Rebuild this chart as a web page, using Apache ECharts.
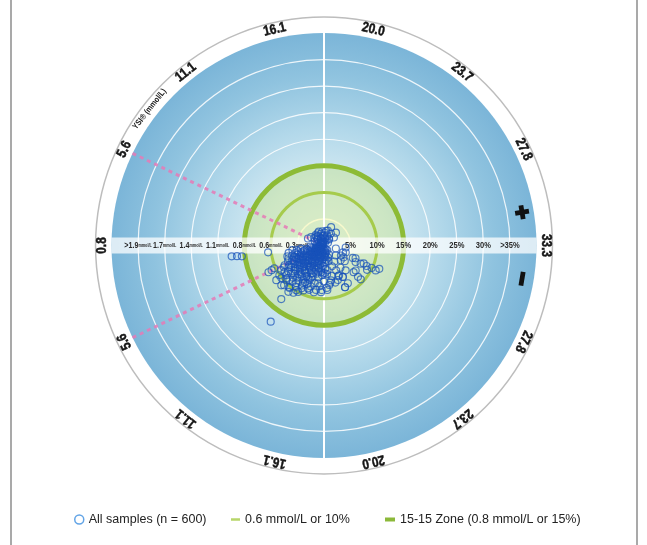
<!DOCTYPE html>
<html>
<head>
<meta charset="utf-8">
<script src="https://cdn.jsdelivr.net/npm/echarts/dist/echarts.min.js"></script>
<style>
  html, body { margin: 0; padding: 0; background: #fff; }
  #chart { width: 647px; height: 545px; }
</style>
</head>
<body>
<div id="chart"></div>
<script>
// YSI reference glucose ticks (mmol/L), equally spaced over each half of the dial
const ysiTicks = [0.8, 5.6, 11.1, 16.1, 20.0, 23.7, 27.8, 33.3];
// Bias rings (percent) with their labels; left side shows mmol/L equivalents
const ringValues = [5, 10, 15, 20, 25, 30, 35];
const pctLabels = ['5%', '10%', '15%', '20%', '25%', '30%', '>35%'];
const mmolLabels = ['0.3', '0.6', '0.8', '1.1', '1.4', '1.7', '>1.9'];

// Samples: [YSI mmol/L, bias in ring units]; positive bias plots in the upper half
const samplesAbove = [
  [20.2, 2.9], [15.8, 2.3], [7.1, 2.9], [10.6, 2.2], [5.2, 3.3], [21.2, 3.7], [19.3, 2.8],
  [24.4, 3.3], [18.0, 1.9], [25.7, 2.4], [9.7, 1.8], [14.1, 1.4], [19.3, 1.3], [23.3, 1.6],
  [6.2, 1.2], [8.5, 0.8], [9.3, 1.6], [11.8, 1.0], [12.6, 2.1], [13.9, 1.5], [15.0, 0.7],
  [16.8, 1.8], [17.4, 0.9], [19.0, 1.3], [20.5, 2.0], [21.7, 1.1], [22.5, 2.6], [24.0, 1.5],
  [26.5, 0.9], [4.0, 0.8], [3.0, 1.4], [14.6, 2.8], [11.0, 2.5], [18.6, 2.4],
  [7.6, 0.5], [10.2, 0.6], [12.9, 0.4], [16.0, 0.5], [5.5, 1.9], [8.0, 2.3], [13.3, 2.6],
  [17.0, 2.7], [21.0, 0.6], [9.0, 0.3]
];
const samplesCore = [
  [1.8, -2.6], [2.2, -4.4], [2.5, -1.5], [2.9, -3.3], [3.2, -5.0], [3.5, -2.1], [3.8, -4.0],
  [4.0, -1.2], [4.2, -3.1], [4.6, -4.7], [4.8, -2.5], [5.0, -0.9], [5.3, -3.6], [5.5, -4.9],
  [5.8, -1.8], [6.0, -3.9], [6.3, -2.7], [6.5, -4.6], [6.8, -1.1], [7.0, -3.3], [7.2, -4.9],
  [7.5, -2.2], [7.7, -3.8], [8.0, -0.7], [8.2, -4.4], [8.4, -2.9], [8.7, -1.6], [8.9, -3.6],
  [9.1, -4.8], [9.4, -2.4], [9.6, -0.9], [9.8, -3.9], [10.1, -1.9], [10.3, -4.5], [10.6, -2.9],
  [10.9, -1.3], [11.3, -3.7], [11.6, -4.9], [11.9, -2.1], [12.2, -0.8], [12.5, -3.3], [12.8, -4.4],
  [13.1, -1.7], [13.4, -2.8], [13.7, -4.1], [14.0, -0.6], [14.3, -3.5], [14.6, -2.3], [14.9, -4.8],
  [15.2, -1.4], [15.5, -3.0], [15.8, -4.3], [16.0, -2.0], [16.4, -3.6], [16.7, -1.2], [17.0, -4.6],
  [17.3, -2.6], [17.6, -3.9], [17.9, -0.9], [18.2, -2.2], [18.5, -4.4], [18.8, -3.1], [19.2, -1.6],
  [19.6, -2.7], [20.3, -1.4], [20.8, -2.4], [21.5, -0.8], [22.3, -1.9], [23.0, -1.1],
  [2.0, -1.0], [2.7, -2.4], [3.3, -0.8], [3.9, -1.7], [4.4, -0.6], [4.9, -1.6], [5.2, -2.9],
  [5.7, -0.5], [6.1, -2.3], [6.6, -0.8], [7.1, -1.9], [7.4, -3.0], [7.9, -1.3], [8.1, -2.5],
  [8.8, -2.1], [9.2, -1.2], [9.9, -2.7], [10.4, -1.0], [10.7, -3.4], [11.2, -1.5], [11.7, -2.7],
  [12.0, -3.9], [12.7, -2.4], [13.2, -3.6], [13.6, -1.1], [14.1, -2.0], [14.8, -3.2], [15.4, -2.5],
  [16.2, -1.5], [16.9, -2.9], [17.7, -1.8], [18.4, -3.3], [19.0, -2.2], [19.8, -1.0], [20.5, -3.1],
  [3.4, -3.8], [4.3, -5.3], [2.6, -5.2],
  [4.0, -4.5], [5.9, -4.4], [6.9, -4.1], [8.0, -4.8], [9.5, -4.3], [10.9, -4.9], [12.1, -4.6],
  [13.8, -4.6], [15.0, -4.0], [16.1, -4.4], [17.2, -5.0], [18.3, -5.2], [19.3, -4.7]
];
const samplesMid = [
  [2.3, -6.0], [3.0, -6.8], [3.6, -5.6], [4.1, -6.3], [4.5, -7.1], [5.1, -5.7], [5.4, -6.6],
  [5.9, -5.4], [6.4, -6.9], [6.9, -5.9], [7.3, -7.4], [7.8, -6.2], [8.3, -5.3], [8.6, -7.0],
  [9.0, -6.1], [9.5, -7.6], [9.9, -5.6], [10.4, -6.7], [10.8, -7.9], [11.4, -6.0], [11.8, -7.2],
  [12.4, -5.4], [12.9, -6.6], [13.3, -7.8], [13.8, -5.8], [14.2, -7.0], [14.7, -6.2], [15.1, -8.1],
  [15.6, -5.5], [15.9, -7.3], [16.5, -6.1], [17.1, -7.7], [17.5, -5.6], [18.0, -6.8], [18.6, -8.0],
  [19.0, -5.4], [19.5, -7.1], [20.2, -5.9], [20.6, -7.3], [21.2, -4.2], [21.8, -6.3], [22.0, -8.8],
  [22.6, -6.9], [22.9, -3.6], [23.4, -5.2],
  [5.6, -5.8], [6.7, -5.2], [7.6, -5.6], [8.5, -5.9], [9.3, -5.2], [10.2, -5.5], [11.0, -5.8],
  [12.3, -5.0], [13.5, -5.2], [14.5, -5.6], [16.3, -5.1], [17.8, -5.3],
  [6.0, -6.4], [6.8, -7.8], [7.0, -6.6], [7.7, -8.3], [8.0, -6.8], [8.8, -8.1], [9.0, -7.1],
  [9.6, -6.4], [10.0, -8.4], [10.5, -7.3], [11.2, -6.9], [11.6, -8.2], [12.0, -6.2], [12.6, -7.5],
  [13.0, -8.6], [13.6, -6.9], [14.0, -7.9], [14.4, -6.5], [6.2, -8.6], [7.4, -9.0], [8.9, -9.4],
  [10.6, -9.0], [11.9, -9.4], [13.2, -9.1], [4.8, -6.0], [5.2, -7.4], [3.9, -7.2]
];
const samplesHigh = [
  [30.3, -2.3], [29.0, -3.8], [32.2, -4.1], [26.9, -4.3], [27.0, -3.7], [29.5, -4.3], [28.3, -5.9],
  [27.5, -6.7], [27.7, -7.7], [28.1, -8.2], [27.8, -8.9], [27.9, -9.9], [27.8, -10.8], [28.4, -11.3],
  [25.8, -7.6], [25.1, -8.7], [25.1, -9.4], [25.2, -7.5], [22.0, -8.8], [22.6, -6.9], [25.5, -2.9],
  [25.3, -4.2], [26.0, -4.9], [24.1, -6.2], [21.9, -5.2], [22.0, -6.3], [21.3, -7.0], [19.8, -6.7],
  [19.2, -7.5], [22.8, -8.4], [28.6, -6.4], [27.2, -9.3]
];
const samplesLow = [
  [2.05, -17.5], [2.1, -16.5], [2.2, -15.6], [2.1, -10.6], [11.8, -17.5], [11.1, -12.9], [5.5, -10.9],
  [5.4, -10.3], [7.8, -11.1], [5.6, -11.6], [9.3, -11.0], [11.3, -11.0], [11.5, -8.8], [12.9, -8.1],
  [15.0, -8.8], [16.5, -8.5], [12.9, -6.8], [18.7, -8.4], [17.5, -8.8], [13.8, -9.3], [12.95, -10.0],
  [12.2, -10.6], [11.0, -10.3], [9.7, -10.6], [9.7, -9.2], [8.3, -9.0], [8.1, -10.1], [6.5, -9.3],
  [5.8, -8.3], [6.4, -7.5], [7.3, -10.1], [9.1, -7.8], [9.2, -9.6], [10.8, -10.2], [12.4, -9.9],
  [14.6, -8.6], [16.2, -9.0], [17.6, -8.4], [16.7, -7.2]
];

// ---- dial layout ----
const CX = 324, CY = 245.5;      // dial centre (px)
const R_BLUE = 212.5;            // radius of the shaded disc (px)
const BLUE_EDGE = 40;            // ring units at the edge of the shaded disc
const R_MAX = 44;                // radius axis extent
const RING_OUTER = 43.0;         // outer white label ring
const LABEL_R = 41.7;            // radius of YSI labels
const HALF = ysiTicks.length - 1;
const FULL = HALF * 2;
const FONT = "'Liberation Sans',Arial,sans-serif";
const NARROW = 0.84;             // horizontal squeeze for the condensed dial lettering

function ysiToPos(v) {
  for (let k = 0; k < HALF; k++) {
    if (v <= ysiTicks[k + 1]) return k + (v - ysiTicks[k]) / (ysiTicks[k + 1] - ysiTicks[k]);
  }
  return HALF;
}
function angleFor(ysi, bias) {
  const p = ysiToPos(ysi);
  return bias >= 0 ? p : FULL - p;
}
// tangential text rotation (degrees, counter-clockwise) at an angle-axis value
function rotFor(a) { return 180 - a * 180 / HALF - 90; }

function geom(api) {
  const c = api.coord([0, 0]);
  const rad = r => { const p = api.coord([r, 0]); return Math.hypot(p[0] - c[0], p[1] - c[1]); };
  return { cx: c[0], cy: c[1], rad };
}

const allSamples = [].concat(samplesAbove, samplesCore, samplesMid, samplesHigh, samplesLow);
const sampleData = allSamples.map(([y, b]) => [Math.abs(b), angleFor(y, b)]);

// YSI tick labels around the rim (top half left->right, bottom half right->left)
const tickTexts = [], tickData = [];
for (let v = 0; v < FULL; v++) {
  const k = v <= HALF ? v : FULL - v;
  tickTexts.push(ysiTicks[k].toFixed(1));
  tickData.push([LABEL_R, v]);
}

// band labels across the horizontal strip
const bandData = [], bandTexts = [];
ringValues.forEach((r, i) => {
  bandData.push([r, HALF]); bandTexts.push(pctLabels[i]);
  bandData.push([r, 0]);    bandTexts.push('{n|' + mmolLabels[i] + '}{u|mmol/L}');
});

const blueGrad = new echarts.graphic.RadialGradient(0.5, 0.5, 0.5, [
  { offset: 0, color: '#eef7f9' },
  { offset: 0.3, color: '#d4eaf2' },
  { offset: 0.55, color: '#b2d8ea' },
  { offset: 0.8, color: '#8fc3df' },
  { offset: 1, color: '#7bb5d8' }
]);

const chart = echarts.init(document.getElementById('chart'), null, { renderer: 'canvas' });

const legendText = { fontSize: 12.5, color: '#222', fontFamily: FONT };

const option = {
  animation: false,
  backgroundColor: '#fff',
  polar: { center: [CX, CY], radius: R_BLUE * R_MAX / BLUE_EDGE },
  radiusAxis: {
    type: 'value', min: 0, max: R_MAX,
    axisLine: { show: false }, axisTick: { show: false }, axisLabel: { show: false }, splitLine: { show: false }
  },
  angleAxis: {
    type: 'value', min: 0, max: FULL, startAngle: 180, clockwise: true,
    axisLine: { show: false }, axisTick: { show: false }, axisLabel: { show: false }, splitLine: { show: false }
  },
  legend: [
    {
      left: 69, top: 508, itemWidth: 9, itemHeight: 9, itemGap: 6,
      data: [{ name: 'All samples (n = 600)', icon: 'circle' }],
      itemStyle: { color: 'rgba(0,0,0,0)', borderColor: '#3b8de0', borderWidth: 1.5 },
      textStyle: legendText
    },
    {
      left: 226, top: 508, itemWidth: 9, itemHeight: 2.5,
      data: [{ name: '0.6 mmol/L or 10%', icon: 'rect' }],
      itemStyle: { color: '#b7d66a' },
      textStyle: legendText
    },
    {
      left: 380, top: 508, itemWidth: 10, itemHeight: 4,
      data: [{ name: '15-15 Zone (0.8 mmol/L or 15%)', icon: 'rect' }],
      itemStyle: { color: '#8cb93a' },
      textStyle: legendText
    }
  ],
  graphic: [
    { type: 'line', shape: { x1: 11, y1: 0, x2: 11, y2: 545 }, style: { stroke: '#a9a9a9', lineWidth: 2 } },
    { type: 'line', shape: { x1: 637, y1: 0, x2: 637, y2: 545 }, style: { stroke: '#a9a9a9', lineWidth: 2 } }
  ],
  series: [
    {
      // shaded dial, green zone fill and light rings
      type: 'custom', coordinateSystem: 'polar', silent: true, z: 1,
      data: [[0, 0]],
      renderItem: (params, api) => {
        const g = geom(api);
        const ch = [
          { type: 'circle', shape: { cx: g.cx, cy: g.cy, r: g.rad(RING_OUTER) }, style: { fill: '#fff', stroke: '#bdbdbd', lineWidth: 1.5 } },
          { type: 'circle', shape: { cx: g.cx, cy: g.cy, r: g.rad(BLUE_EDGE) }, style: { fill: blueGrad } },
          { type: 'circle', shape: { cx: g.cx, cy: g.cy, r: g.rad(15) }, style: { fill: 'rgba(196,224,128,0.40)' } }
        ];
        [20, 25, 30, 35].forEach(r => ch.push({
          type: 'circle', shape: { cx: g.cx, cy: g.cy, r: g.rad(r) },
          style: { fill: 'none', stroke: 'rgba(255,255,255,0.85)', lineWidth: 1.2 }
        }));
        ch.push({ type: 'circle', shape: { cx: g.cx, cy: g.cy, r: g.rad(5) }, style: { fill: 'none', stroke: 'rgba(250,250,205,0.95)', lineWidth: 1.5 } });
        const top = api.coord([BLUE_EDGE, HALF / 2]), bot = api.coord([BLUE_EDGE, HALF * 1.5]);
        ch.push({ type: 'line', shape: { x1: top[0], y1: top[1], x2: bot[0], y2: bot[1] }, style: { stroke: '#fff', lineWidth: 2 } });
        return { type: 'group', children: ch };
      }
    },
    {
      name: '0.6 mmol/L or 10%', type: 'custom', coordinateSystem: 'polar', silent: true, z: 2,
      itemStyle: { color: '#a6cb4c' },
      data: [[10, 0]],
      renderItem: (params, api) => {
        const g = geom(api);
        return { type: 'circle', shape: { cx: g.cx, cy: g.cy, r: g.rad(api.value(0)) }, style: { fill: 'none', stroke: '#a6cb4c', lineWidth: 3 } };
      }
    },
    {
      name: '15-15 Zone (0.8 mmol/L or 15%)', type: 'custom', coordinateSystem: 'polar', silent: true, z: 3,
      itemStyle: { color: '#8cb93a' },
      data: [[15, 0]],
      renderItem: (params, api) => {
        const g = geom(api);
        return { type: 'circle', shape: { cx: g.cx, cy: g.cy, r: g.rad(api.value(0)) }, style: { fill: 'none', stroke: '#8dbb36', lineWidth: 5 } };
      }
    },
    {
      // horizontal label strip
      type: 'custom', coordinateSystem: 'polar', silent: true, z: 4,
      data: [[0, 0]],
      renderItem: (params, api) => {
        const g = geom(api);
        const w = g.rad(BLUE_EDGE);
        return { type: 'rect', shape: { x: g.cx - w, y: g.cy - 8, width: 2 * w, height: 16 }, style: { fill: 'rgba(255,255,255,0.74)' } };
      }
    },
    {
      // 5.6 mmol/L boundary
      type: 'line', coordinateSystem: 'polar', silent: true, z: 5, symbol: 'none',
      data: [[BLUE_EDGE, 1], [0, 1]],
      lineStyle: { color: '#e57ab6', width: 3, type: [4, 4], opacity: 0.85 }
    },
    {
      type: 'line', coordinateSystem: 'polar', silent: true, z: 5, symbol: 'none',
      data: [[BLUE_EDGE, FULL - 1], [0, FULL - 1]],
      lineStyle: { color: '#e57ab6', width: 3, type: [4, 4], opacity: 0.85 }
    },
    {
      // ring labels in the strip
      type: 'custom', coordinateSystem: 'polar', silent: true, z: 6,
      data: bandData,
      renderItem: (params, api) => {
        const p = api.coord([api.value(0), api.value(1)]);
        return {
          type: 'text', x: p[0], y: p[1] + 0.5, scaleX: 0.84,
          style: {
            text: bandTexts[params.dataIndex], align: 'center', verticalAlign: 'middle',
            fill: '#2a2a2a', font: 'bold 9px ' + FONT,
            rich: {
              n: { fontSize: 8.5, fontWeight: 'bold', fill: '#2a2a2a', fontFamily: FONT },
              u: { fontSize: 4.5, fontWeight: 'bold', fill: '#2a2a2a', fontFamily: FONT }
            }
          }
        };
      }
    },
    {
      name: 'All samples (n = 600)', type: 'scatter', coordinateSystem: 'polar', silent: true, z: 7,
      symbol: 'circle', symbolSize: 7,
      itemStyle: { color: 'rgba(0,0,0,0)', borderColor: 'rgba(24,82,186,0.9)', borderWidth: 1.15 },
      data: sampleData
    },
    {
      // YSI values around the rim
      type: 'custom', coordinateSystem: 'polar', silent: true, z: 8,
      data: tickData,
      renderItem: (params, api) => {
        const v = api.value(1);
        const p = api.coord([api.value(0), v]);
        return {
          type: 'text', x: p[0], y: p[1], rotation: rotFor(v) * Math.PI / 180, scaleX: NARROW,
          style: {
            text: tickTexts[params.dataIndex], align: 'center', verticalAlign: 'middle',
            fill: '#151515', stroke: '#151515', lineWidth: 0.5, font: 'bold 14px ' + FONT
          }
        };
      }
    },
    {
      // axis title
      type: 'custom', coordinateSystem: 'polar', silent: true, z: 8,
      data: [[LABEL_R, 1.48]],
      renderItem: (params, api) => {
        const v = api.value(1);
        const p = api.coord([api.value(0), v]);
        return {
          type: 'text', x: p[0], y: p[1], rotation: rotFor(v) * Math.PI / 180, scaleX: NARROW,
          style: { text: 'YSI\u00AE (mmol/L)', align: 'center', verticalAlign: 'middle', fill: '#1a1a1a', font: 'bold 8.5px ' + FONT }
        };
      }
    },
    {
      // sign markers: + for the upper half, - for the lower half
      type: 'custom', coordinateSystem: 'polar', silent: true, z: 8,
      data: [[37.8, 6.63], [37.8, 7.37]],
      renderItem: (params, api) => {
        const v = api.value(1);
        const p = api.coord([api.value(0), v]);
        const bars = [{ type: 'rect', shape: { x: -7, y: -2.4, width: 14, height: 4.8 }, style: { fill: '#111' } }];
        if (params.dataIndex === 0) {
          bars.push({ type: 'rect', shape: { x: -2.4, y: -7, width: 4.8, height: 14 }, style: { fill: '#111' } });
        }
        return { type: 'group', x: p[0], y: p[1], rotation: rotFor(v) * Math.PI / 180, children: bars };
      }
    }
  ]
};

chart.setOption(option);
</script>
</body>
</html>
